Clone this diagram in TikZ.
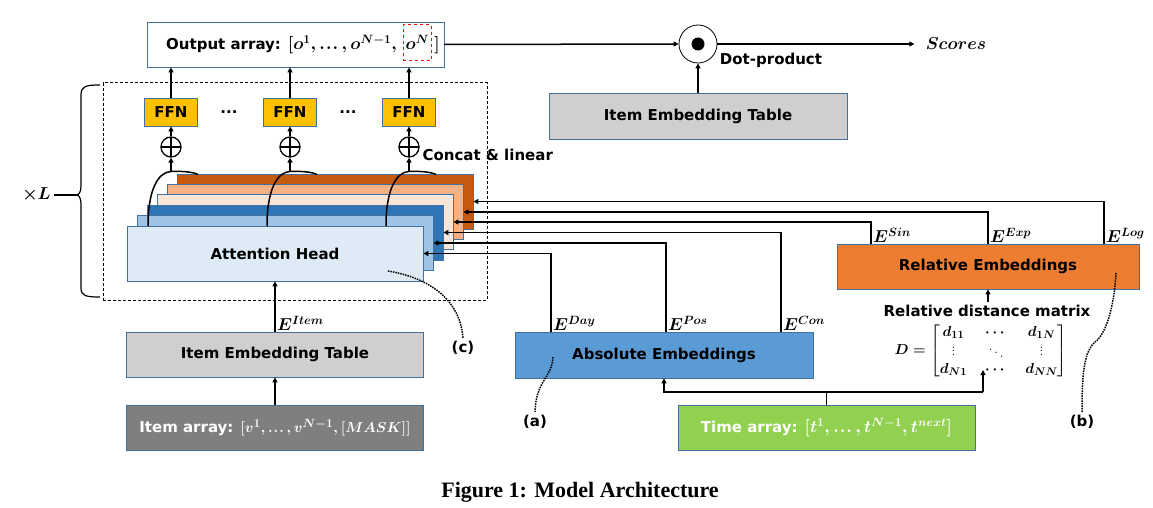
\documentclass[tikz,border=0pt]{standalone}
\usepackage{fontspec}
\usepackage{amsmath}
\usetikzlibrary{arrows.meta}
\newfontfamily\tfont{DejaVu Sans}
\newfontfamily\capfont{Liberation Serif}
\DeclareMathSizes{13.5}{13.5}{10.5}{8}
\DeclareMathSizes{14}{14}{11}{8.5}
\DeclareMathSizes{15}{15}{12}{9}
\DeclareMathSizes{16}{16}{12.5}{9.5}
\DeclareMathSizes{17}{17}{13}{10}
\newcommand\tdots{\mathinner{{.}\mkern1mu{.}\mkern1mu{.}}}
\newcommand\svdots{\vcenter{\baselineskip=3.6pt\lineskiplimit=-10pt\hbox{.}\hbox{.}\hbox{.}}}
\newcommand\sddots{\mathinner{\raise4.5pt\hbox{.}\mkern2mu\raise1pt\hbox{.}\mkern2mu\raise-2.5pt\hbox{.}}}
\definecolor{bordc}{HTML}{41719C}
\definecolor{ffnc}{HTML}{FFC000}
\definecolor{rec}{HTML}{ED7D31}
\definecolor{aec}{HTML}{5B9BD5}
\definecolor{timec}{HTML}{92D050}
\definecolor{itemc}{HTML}{7F7F7F}
\definecolor{ietc}{HTML}{D0CECE}
\definecolor{lc1}{HTML}{DEEBF7}
\definecolor{lc2}{HTML}{9DC3E6}
\definecolor{lc3}{HTML}{2E75B6}
\definecolor{lc4}{HTML}{FBE5D6}
\definecolor{lc5}{HTML}{F4B183}
\definecolor{lc6}{HTML}{C55A11}
\begin{document}
\begin{tikzpicture}[x=1pt,y=-1pt,
  every node/.style={font=\tfont\bfseries\boldmath\fontsize{15}{18}\selectfont},
  box/.style={draw=bordc, line width=0.8pt, minimum width=297pt, minimum height=45pt, inner sep=0pt},
  layer/.style={draw=bordc, line width=0.8pt, minimum width=296pt, minimum height=55pt, inner sep=0pt},
  ffn/.style={draw=bordc, line width=0.8pt, fill=ffnc, minimum width=53pt, minimum height=28pt, inner sep=0pt},
  oplus/.style={circle, draw, line width=1.3pt, minimum size=20pt, inner sep=0pt,
    path picture={\draw[line width=1.3pt] (path picture bounding box.north) -- (path picture bounding box.south)
      (path picture bounding box.west) -- (path picture bounding box.east);}},
  arr/.style={-{Triangle[length=5pt,width=5pt]}, line width=1.5pt},
  conn/.style={line width=1.5pt},
  dots/.style={densely dotted, line width=1.5pt},
  elab/.style={font=\fontsize{16}{18}\selectfont\boldmath, inner sep=1pt}]
\useasboundingbox (0,0) rectangle (1153,508);

% output array
\node[box, fill=white] (out) at (295.5,44.5) {};
\node[anchor=base west, inner sep=0pt] (outtxt) at (166,50) {Output array: \fontsize{16}{18}\selectfont$[o^1, \tdots, o^{N-1},$\,};
\node[anchor=base west, draw=red, dashed, line width=1.5pt, minimum width=28pt, minimum height=36pt, inner sep=0pt, font=\fontsize{16}{18}\selectfont\boldmath] (oN) at ([xshift=3pt]outtxt.base east) {$o^N$};
\node[anchor=base west, inner sep=0pt, font=\fontsize{16}{18}\selectfont\boldmath] (obr) at ([xshift=2pt]oN.base east) {$]$};

% dot product
\node[circle, draw, line width=0.8pt, minimum size=38pt, inner sep=0pt] (dot) at (698,44) {};
\fill (dot.center) circle (6.5pt);
\node (dp) at (771,60) {Dot-product};
\node[font=\fontsize{17}{19}\selectfont\boldmath] (scores) at (956,44) {$Scores$};
\node[box, fill=ietc, minimum width=298pt, minimum height=46pt] (iet2) at (698,116) {Item Embedding Table};
\draw[arr] (out.east) -- (dot.west);
\draw[arr] (dot.east) -- ([xshift=-8pt]scores.west);
\draw[arr] (iet2.north) -- (dot.south);

% dashed frame and brace
\node[draw, dashed, line width=1pt, dash pattern=on 3pt off 2pt, minimum width=384pt, minimum height=217pt, inner sep=0pt] (frame) at (295,191.5) {};
\draw[line width=1.2pt] (100,85) .. controls (86,85) and (81,86) .. (81,95) -- (81,186)
  .. controls (81,192) and (79,195) .. (76,195) .. controls (79,195) and (81,198) .. (81,204)
  -- (81,288) .. controls (81,296) and (86,297) .. (100,297);
\node[anchor=east, inner sep=0pt, font=\fontsize{16}{18}\selectfont\boldmath] (xl) at (51,195) {$\times L$};
\draw[line width=1.2pt] ([xshift=3pt]xl.east) -- (76,195);

% layers
\node[layer, fill=lc6] (L6) at (325,201.5) {};
\node[layer, fill=lc5] (L5) at (315,212) {};
\node[layer, fill=lc4] (L4) at (305,222) {};
\node[layer, fill=lc3] (L3) at (295,232.5) {};
\node[layer, fill=lc2] (L2) at (285,243) {};
\node[layer, fill=lc1] (L1) at (275,253.5) {Attention Head};

% FFN, oplus
\foreach \cx/\ix in {171/1, 290/2, 409/3} {
  \node[ffn] (f\ix) at (\cx,112) {FFN};
  \node[oplus] (p\ix) at (\cx,147) {};
  \coordinate (k\ix) at (\cx,171.5);
  \draw[conn] (\cx-23,226) .. controls (\cx-23,190) and (\cx-13,172) .. (k\ix)
     .. controls (\cx+12,171) and (\cx+22,172) .. (\cx+27,174.5);
  \draw[arr] (k\ix) -- (p\ix.south);
  \draw[arr] (p\ix.north) -- (f\ix.south);
  \draw[arr] (f\ix.north) -- (f\ix.north |- out.south);
}
\node (d1) at (229,112) {...};
\node (d2) at (348,112) {...};
\node[anchor=west] (cl) at (419,155) {Concat \& linear};

% item side
\node[box, fill=ietc] (iet) at (275,354.5) {Item Embedding Table};
\node[box, fill=itemc, text=white] (item) at (275,427.5) {Item array: $[v^1, \tdots, v^{N-1}, [MASK]]$};
\draw[arr] (item.north) -- (iet.south);
\draw[arr] (iet.north) -- (L1.south);
\node[elab, anchor=south west] (eitem) at ([xshift=1pt]iet.north) {$E^{Item}$};

% relative embeddings
\node[box, fill=rec, minimum width=302pt] (re) at (988,266.5) {Relative Embeddings};
\draw[arr] ([xshift=116pt]re.north) |- (L6.east);
\draw[arr] (re.north) |- (L5.east);
\draw[arr] ([xshift=-117pt]re.north) |- (L4.east);
\node[elab, anchor=south west] (esin) at ([xshift=-116pt]re.north) {$E^{Sin}$};
\node[elab, anchor=south west] (eexp) at ([xshift=1pt]re.north) {$E^{Exp}$};
\node[elab, anchor=south west] (elog) at ([xshift=117pt]re.north) {$E^{Log}$};

% absolute embeddings
\node[box, fill=aec, minimum width=298pt, minimum height=46pt] (ae) at (664,355) {Absolute Embeddings};
\draw[arr] ([xshift=117pt]ae.north) |- (L3.east);
\draw[arr] ([xshift=2pt]ae.north) |- (L2.east);
\draw[arr] ([xshift=-113pt]ae.north) |- (L1.east);
\node[elab, anchor=south west] (eday) at ([xshift=-112pt]ae.north) {$E^{Day}$};
\node[elab, anchor=south west] (epos) at ([xshift=3pt]ae.north) {$E^{Pos}$};
\node[elab, anchor=south west] (econ) at ([xshift=118pt]ae.north) {$E^{Con}$};

% time array and matrix
\node[box, fill=timec, text=white] (time) at (826.5,427.5) {Time array: \fontsize{16}{18}\selectfont$[t^1, \tdots, t^{N-1}, t^{next}]$};
\node (rdm) at (987,311) {Relative distance matrix};
\draw[arr] (rdm.north -| re.south) -- (re.south);
\node[inner sep=0pt, font=\fontsize{13.5}{16}\selectfont\boldmath] (dmat) at (981,351)
  {\setlength{\arraycolsep}{9pt}\renewcommand{\arraystretch}{1.15}$D=\begin{bmatrix} d_{11} & \cdots & d_{1N}\\ \svdots & \sddots & \svdots\\ d_{N1} & \cdots & d_{NN}\end{bmatrix}$};
\coordinate (fkL) at (664,392);
\coordinate (fkR) at (983,392);
\draw[conn] (time.north) -- (time.north |- fkL);
\draw[arr] (fkR) -- (fkL) -- (ae.south);
\draw[arr] (fkR) -- ++(0,-22);

% labels and dotted pointers
\node (la) at (535,422) {(a)};
\node (lb) at (1082,422) {(b)};
\node (lc) at (463,348) {(c)};
\draw[dots] (553,357) .. controls (552,378) and (536,380) .. (la.north);
\draw[dots] (1116,273) .. controls (1114,310) and (1105,335) .. (1095,342) .. controls (1083,352) and (1082,380) .. (lb.north);
\draw[dots] (388,271) .. controls (430,278) and (460,300) .. (lc.north);

% caption
\node[font=\capfont\bfseries\fontsize{22}{26}\selectfont] (cap) at (580,492) {Figure 1: Model Architecture};
\end{tikzpicture}
\end{document}
